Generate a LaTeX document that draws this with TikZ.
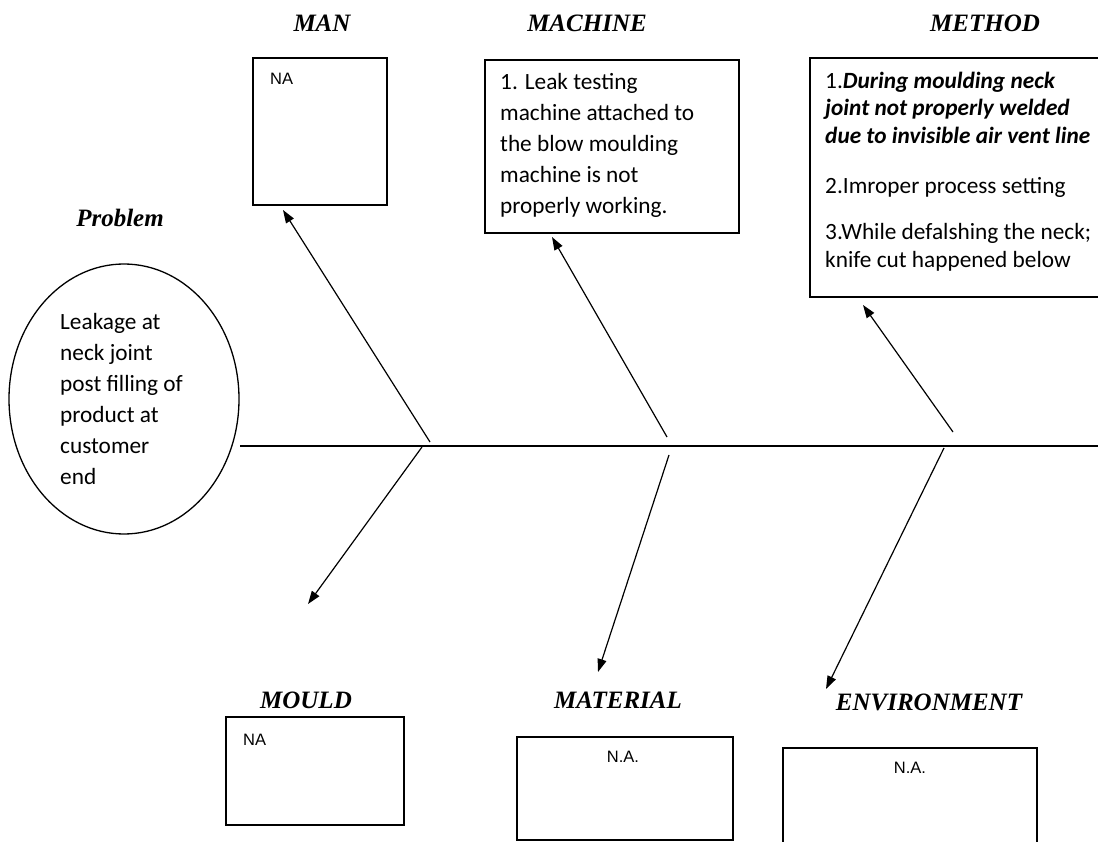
\documentclass[tikz,border=0pt]{standalone}
\usepackage{fontspec}
\setmainfont{Carlito}
\newfontfamily\headfont{Liberation Serif}
\newfontfamily\nafont{Liberation Sans}
\usetikzlibrary{arrows.meta, positioning, shapes.geometric}

\begin{document}
\begin{tikzpicture}[
    x=1pt, y=-1pt,
    box/.style={rectangle, draw, line width=1.3pt, inner sep=0pt},
    head/.style={font=\headfont\bfseries\itshape\fontsize{25}{29}\selectfont, inner sep=0pt},
    body/.style={font=\fontsize{23.3}{31}\selectfont, align=left, inner sep=0pt},
    na/.style={font=\nafont\fontsize{16.5}{19}\selectfont, inner sep=0pt},
    arrow/.style={-{Triangle[length=13pt, width=9pt]}, line width=1.2pt}
]
\useasboundingbox (0,0) rectangle (1098,842);
\clip (0,0) rectangle (1098,842);

% Problem
\node[head] (problemtitle) at (120,218) {Problem};
\node[draw, ellipse, line width=1.3pt, minimum width=230pt, minimum height=270pt] (problem) at (124,399) {};
\node[body, anchor=west] (problemtext) at (60,399) {Leakage at\\neck joint\\post filling of\\product at\\customer\\end};

% Cause boxes
\node[box, minimum width=134pt, minimum height=147pt] (manbox) at (320,131.5) {};
\node[box, minimum width=254pt, minimum height=173pt] (machinebox) at (612,146.5) {};
\node[box, minimum width=305pt, minimum height=239pt] (methodbox) at (962.5,177.5) {};
\node[box, minimum width=178pt, minimum height=108pt] (mouldbox) at (315,771) {};
\node[box, minimum width=216pt, minimum height=103pt] (materialbox) at (625,788.5) {};
\node[box, minimum width=254pt, minimum height=122pt] (environmentbox) at (910,809) {};

% Titles
\node[head] (man) at (322,23) {MAN};
\node[head] (machine) at (587,23) {MACHINE};
\node[head] (method) at (985,23) {METHOD};
\node[head] (mould) at (306,700) {MOULD};
\node[head] (material) at (618,700) {MATERIAL};
\node[head] (environment) at (929,702) {ENVIRONMENT};

% Box texts
\node[na, anchor=west] (manna) at (270,79) {NA};
\node[body, anchor=west] (machinetext) at (500,145.5) {1. Leak testing\\machine attached to\\the blow moulding\\machine is not\\properly working.};
\node[body, anchor=west, font=\fontsize{23.3}{27.5}\selectfont] (methodtext) at (825,171.5)
    {1.\textbf{\textit{During moulding neck}}\\\textbf{\textit{joint not properly welded}}\\\textbf{\textit{due to invisible air vent line}}\\[23pt]2.Imroper process setting\\[18.5pt]3.While defalshing the neck;\\knife cut happened below};
\node[na, anchor=west] (mouldna) at (243,740) {NA};
\node[na] (materialna) at (623,757) {N.A.};
\node[na] (environmentna) at (910,768) {N.A.};

% Spine
\coordinate (spinehead) at (240,446);
\coordinate (spinetail) at (1110,446);
\draw[line width=1.3pt] (spinehead) -- (spinetail);

% Bones
\coordinate (manroot) at (430,442);
\coordinate (mantip) at (283,210);
\coordinate (mouldroot) at (422,447);
\coordinate (mouldtip) at (308,604);
\coordinate (machineroot) at (667,437);
\coordinate (machinetip) at (552,237);
\coordinate (materialroot) at (669,455);
\coordinate (materialtip) at (598,672);
\coordinate (methodroot) at (953,432);
\coordinate (methodtip) at (863,305);
\coordinate (environmentroot) at (944,448);
\coordinate (environmenttip) at (826,689);

\draw[arrow] (manroot) -- (mantip);
\draw[arrow] (mouldroot) -- (mouldtip);
\draw[arrow] (machineroot) -- (machinetip);
\draw[arrow] (materialroot) -- (materialtip);
\draw[arrow] (methodroot) -- (methodtip);
\draw[arrow] (environmentroot) -- (environmenttip);

\end{tikzpicture}
\end{document}
